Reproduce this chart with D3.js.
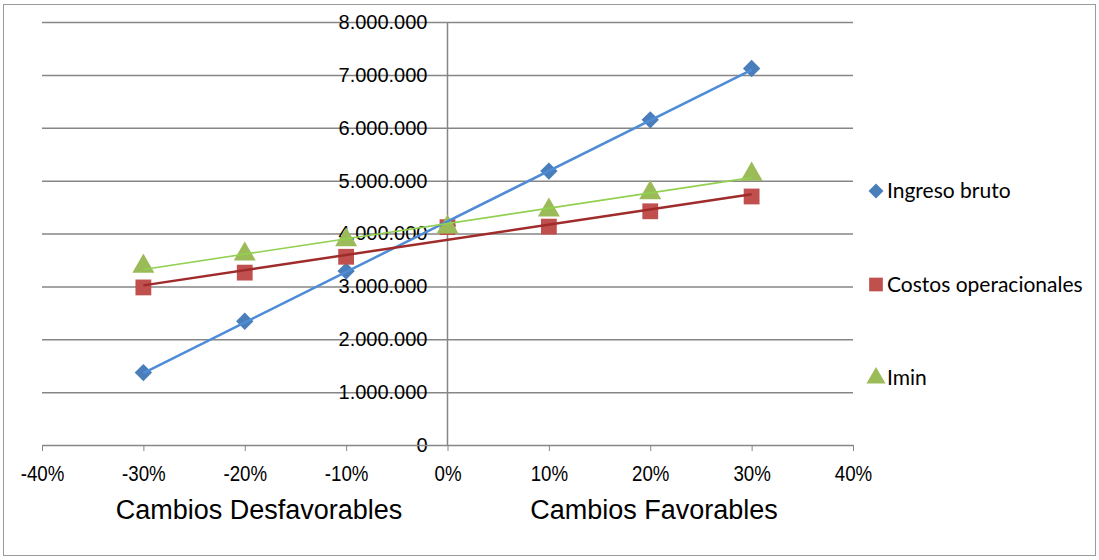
<!DOCTYPE html>
<html>
<head>
<meta charset="utf-8">
<script src="https://cdn.jsdelivr.net/npm/d3@7"></script>
<style>
  body { margin: 0; background: #fff; }
  svg { display: block; }
  .tick line { stroke: #868686; }
</style>
</head>
<body>
<div id="chart"></div>
<script>
// data
const cambios = [-0.3, -0.2, -0.1, 0, 0.1, 0.2, 0.3];
const ingresoBruto = [1370000, 2340000, 3290000, 4150000, 5180000, 6150000, 7120000];
const costosOperacionales = [2980000, 3260000, 3560000, 4120000, 4130000, 4420000, 4700000];
const imin = [3380000, 3610000, 3880000, 4120000, 4440000, 4770000, 5120000];
const seriesNames = ['Ingreso bruto', 'Costos operacionales', 'Imin'];
const xTicks = [-0.4, -0.3, -0.2, -0.1, 0, 0.1, 0.2, 0.3, 0.4];
const yTicks = [0, 1000000, 2000000, 3000000, 4000000, 5000000, 6000000, 7000000, 8000000];
const axisTitles = ['Cambios Desfavorables', 'Cambios Favorables'];

const W = 1099, H = 560;
const plot = {left: 42, right: 853, top: 22, bottom: 445};

const locale = d3.formatLocale({decimal: ',', thousands: '.', grouping: [3], currency: ['$', ''], minus: '-'});
const fmtY = locale.format(',.0f');
const fmtX = locale.format('.0%');

// diamond = square turned 45 degrees, like the spreadsheet marker
const series = [
    {name: seriesNames[0], values: ingresoBruto, marker: '#4a7ebb', line: '#4f8cd6', lw: 2.5, symbol: d3.symbolSquare, size: 150, rot: 45},
    {name: seriesNames[1], values: costosOperacionales, marker: '#c0504d', line: '#a02b2b', lw: 2.5, symbol: d3.symbolSquare, size: 250, rot: 0},
    {name: seriesNames[2], values: imin, marker: '#9bbb59', line: '#92d050', lw: 1.6, symbol: d3.symbolTriangle, size: 210, rot: 0}
];

const svg = d3.select('#chart').append('svg')
    .attr('width', W)
    .attr('height', H);

// outer chart border
svg.append('rect')
    .attr('x', 3.5).attr('y', 4.5)
    .attr('width', W - 7).attr('height', H - 9)
    .attr('fill', 'none')
    .attr('stroke', '#9a9a9a');

const x = d3.scaleLinear().domain([-0.4, 0.4]).range([plot.left, plot.right]);
const y = d3.scaleLinear().domain([0, 8000000]).range([plot.bottom, plot.top]);

// horizontal gridlines
svg.append('g').selectAll('line')
    .data(yTicks.slice(1))
    .join('line')
    .attr('x1', plot.left).attr('x2', plot.right)
    .attr('y1', d => y(d) + 0.5).attr('y2', d => y(d) + 0.5)
    .attr('stroke', '#868686')
    .attr('stroke-width', 1.5);

// vertical axis line at 0%
svg.append('line')
    .attr('x1', x(0)).attr('x2', x(0))
    .attr('y1', plot.top).attr('y2', plot.bottom)
    .attr('stroke', '#868686')
    .attr('stroke-width', 1.5);

// y axis labels
const yAxisG = svg.append('g')
    .attr('transform', `translate(${x(0)},0)`)
    .call(d3.axisLeft(y).tickValues(yTicks).tickFormat(fmtY).tickSize(0).tickPadding(20));
yAxisG.select('.domain').remove();
yAxisG.selectAll('text')
    .attr('font-family', '"Liberation Sans", Arial, sans-serif')
    .attr('font-size', 20)
    .attr('fill', '#000');

// x axis
const xAxisG = svg.append('g')
    .attr('transform', `translate(0,${plot.bottom})`)
    .call(d3.axisBottom(x).tickValues(xTicks).tickFormat(fmtX).tickSize(6).tickPadding(14).tickSizeOuter(0));
xAxisG.select('.domain')
    .attr('stroke', '#868686')
    .attr('stroke-width', 1.5);
xAxisG.selectAll('text')
    .attr('font-family', '"Liberation Sans", Arial, sans-serif')
    .attr('font-size', 22)
    .attr('fill', '#000')
    .attr('transform', 'scale(0.85,1)');

// axis titles under each half
svg.selectAll('.axis-title')
    .data(axisTitles)
    .join('text')
    .attr('class', 'axis-title')
    .attr('x', (d, i) => i === 0 ? 259 : 654)
    .attr('y', 519)
    .attr('text-anchor', 'middle')
    .attr('font-family', '"Liberation Sans", Arial, sans-serif')
    .attr('font-size', 27)
    .attr('fill', '#000')
    .text(d => d);

// markers
series.forEach(s => {
    svg.append('g').selectAll('path')
        .data(s.values)
        .join('path')
        .attr('transform', (d, i) => `translate(${x(cambios[i])},${y(d)}) rotate(${s.rot})`)
        .attr('d', d3.symbol().type(s.symbol).size(s.size))
        .attr('fill', s.marker);
});

// linear trendlines fitted to each series
series.forEach(s => {
    const mx = d3.mean(cambios);
    const my = d3.mean(s.values);
    const slope = d3.sum(cambios, (c, i) => (c - mx) * (s.values[i] - my)) / d3.sum(cambios, c => (c - mx) ** 2);
    const ends = [d3.min(cambios), d3.max(cambios)].map(c => [c, my + slope * (c - mx)]);
    svg.append('path')
        .datum(ends)
        .attr('d', d3.line().x(d => x(d[0])).y(d => y(d[1])))
        .attr('fill', 'none')
        .attr('stroke', s.line)
        .attr('stroke-width', s.lw);
});

// legend
const legend = svg.append('g').selectAll('g')
    .data(series)
    .join('g')
    .attr('transform', (d, i) => `translate(876,${191 + i * 93.5})`);
legend.append('path')
    .attr('transform', d => `rotate(${d.rot})`)
    .attr('d', d => d3.symbol().type(d.symbol).size(d.size * 0.75)())
    .attr('fill', d => d.marker);
legend.append('text')
    .attr('x', 11)
    .attr('y', 7)
    .attr('font-family', 'Lato, "Open Sans", sans-serif')
    .attr('font-size', 21)
    .attr('fill', '#000')
    .text(d => d.name);
</script>
</body>
</html>
